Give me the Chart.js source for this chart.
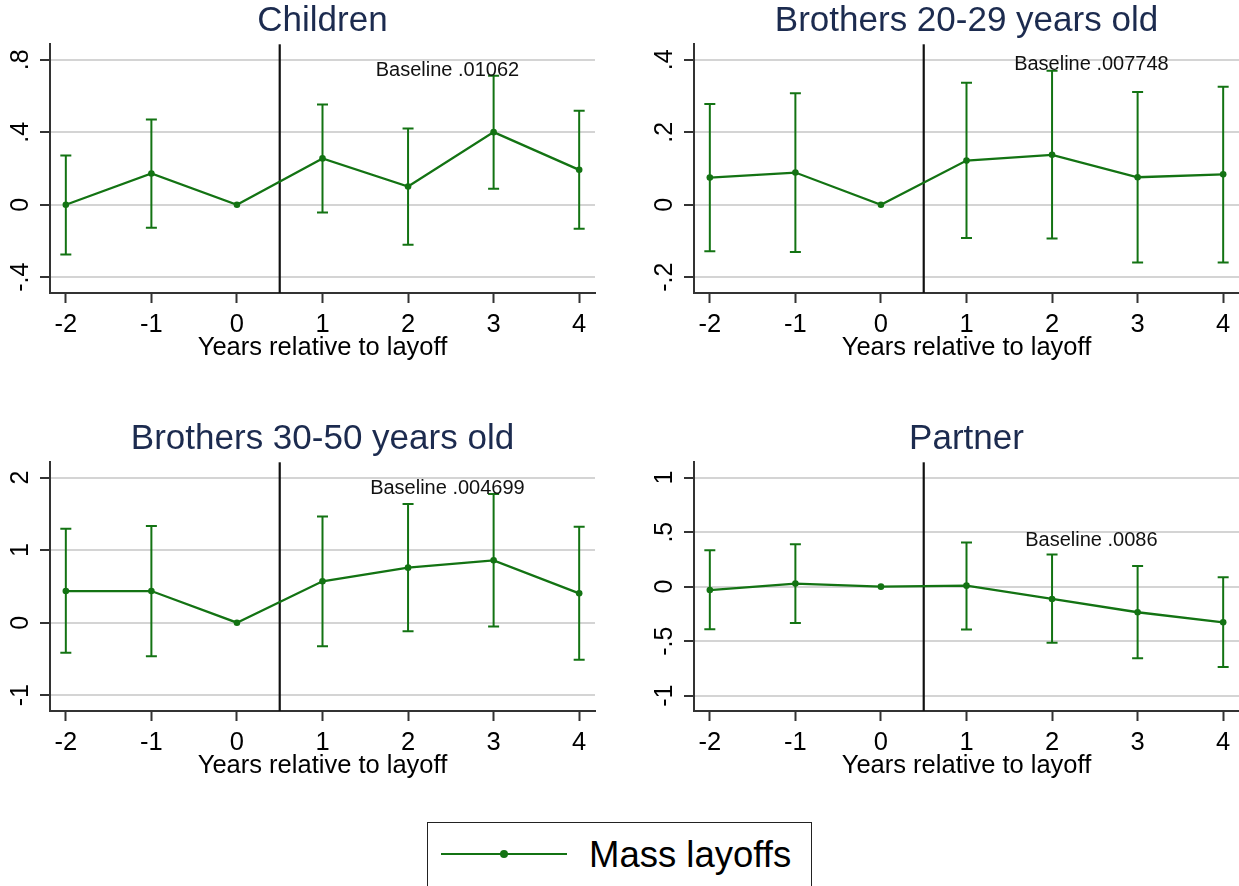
<!DOCTYPE html>
<html>
<head>
<meta charset="utf-8">
<script src="https://cdn.jsdelivr.net/npm/chart.js@4.4.1/dist/chart.umd.min.js"></script>
<style>
html,body{margin:0;padding:0;background:#fff;overflow:hidden;width:1239px;height:886px;}
canvas{position:absolute;}
#legend{position:absolute;left:427px;top:822px;width:385px;height:90px;border:1.5px solid #222;box-sizing:border-box;}
#lgline{position:absolute;left:441px;top:852.8px;width:126px;height:2.5px;background:#137313;}
#lgdot{position:absolute;left:500px;top:850px;width:8px;height:8px;border-radius:50%;background:#137313;}
#lgtext{position:absolute;left:589px;top:837px;font-family:"Liberation Sans",Arial,sans-serif;font-size:36.5px;line-height:36px;color:#000;white-space:nowrap;}
</style>
</head>
<body>
<canvas id="c1" width="600" height="363" style="left:0px;top:0px"></canvas>
<canvas id="c2" width="595" height="363" style="left:644px;top:0px"></canvas>
<canvas id="c3" width="600" height="363" style="left:0px;top:418px"></canvas>
<canvas id="c4" width="595" height="363" style="left:644px;top:418px"></canvas>
<div id="legend"></div>
<div id="lgline"></div>
<div id="lgdot"></div>
<div id="lgtext">Mass layoffs</div>
<script>
// ---------- data ----------
const years = [-2, -1, 0, 1, 2, 3, 4];
const layoffYear = 0.5;
const seriesName = 'Mass layoffs';
const xTitle = 'Years relative to layoff';

const panelTitles = ['Children', 'Brothers 20-29 years old', 'Brothers 30-50 years old', 'Partner'];
const baselineLabels = ['Baseline .01062', 'Baseline .007748', 'Baseline .004699', 'Baseline .0086'];

const childrenEst = [0, 0.173, 0, 0.256, 0.101, 0.401, 0.193];
const childrenLo  = [-0.274, -0.127, null, -0.042, -0.221, 0.088, -0.132];
const childrenHi  = [0.272, 0.471, null, 0.554, 0.421, 0.713, 0.519];

const bro2029Est = [0.075, 0.089, 0, 0.122, 0.138, 0.076, 0.084];
const bro2029Lo  = [-0.128, -0.130, null, -0.092, -0.093, -0.159, -0.159];
const bro2029Hi  = [0.278, 0.308, null, 0.337, 0.370, 0.311, 0.326];

const bro3050Est = [0.436, 0.436, 0, 0.570, 0.758, 0.859, 0.404];
const bro3050Lo  = [-0.415, -0.462, null, -0.325, -0.119, -0.051, -0.512];
const bro3050Hi  = [1.293, 1.333, null, 1.463, 1.635, 1.772, 1.322];

const partnerEst = [-0.031, 0.028, 0, 0.009, -0.113, -0.235, -0.327];
const partnerLo  = [-0.390, -0.333, null, -0.394, -0.514, -0.657, -0.737];
const partnerHi  = [0.333, 0.388, null, 0.405, 0.294, 0.190, 0.086];

const childrenYTicks = [-0.4, 0, 0.4, 0.8];
const childrenYLabels = ['-.4', '0', '.4', '.8'];
const bro2029YTicks = [-0.2, 0, 0.2, 0.4];
const bro2029YLabels = ['-.2', '0', '.2', '.4'];
const bro3050YTicks = [-1, 0, 1, 2];
const bro3050YLabels = ['-1', '0', '1', '2'];
const partnerYTicks = [-1, -0.5, 0, 0.5, 1];
const partnerYLabels = ['-1', '-.5', '0', '.5', '1'];

// ---------- layout / style ----------
const FONT = '"Liberation Sans", Arial, sans-serif';
const GREEN = '#137313';
const TITLE_COLOR = '#1c2b4f';
const xRange = [-2.185, 4.185];

const panelLayout = [
  {canvas: 'c1', yMin: -0.487, yMax: 0.886, baseX: 2.46, baseY: 0.742, yPad: 4.5, padRight: 5},
  {canvas: 'c2', yMin: -0.2435, yMax: 0.443, baseX: 2.46, baseY: 0.388, yPad: 4.5, padRight: 0},
  {canvas: 'c3', yMin: -1.217, yMax: 2.21, baseX: 2.46, baseY: 1.85, yPad: 7.8, padRight: 5},
  {canvas: 'c4', yMin: -1.141, yMax: 1.141, baseX: 2.46, baseY: 0.425, yPad: 4.5, padRight: 0}
];

const overlay = {
  id: 'overlay',
  beforeDatasetsDraw(chart, args, opts) {
    const {ctx, chartArea, scales} = chart;
    const px = scales.x.getPixelForValue(layoffYear);
    ctx.save();
    ctx.strokeStyle = '#111';
    ctx.lineWidth = 2.2;
    ctx.beginPath();
    ctx.moveTo(px, chartArea.top);
    ctx.lineTo(px, chartArea.bottom);
    ctx.stroke();
    ctx.restore();
  },
  afterDatasetsDraw(chart, args, opts) {
    const {ctx, scales} = chart;
    ctx.save();
    ctx.fillStyle = '#111';
    ctx.font = '20px ' + FONT;
    ctx.textAlign = 'center';
    ctx.textBaseline = 'middle';
    ctx.fillText(opts.text, scales.x.getPixelForValue(opts.x), scales.y.getPixelForValue(opts.y));
    ctx.restore();
  }
};

function makeChart(idx, est, lo, hi, yTicks, yLabels) {
  const L = panelLayout[idx];
  const whisker = [];
  const caps = [];
  years.forEach((x, i) => {
    if (lo[i] !== null && hi[i] !== null) {
      whisker.push({x: x, y: lo[i]}, {x: x, y: hi[i]}, {x: x, y: null});
      caps.push({x: x, y: lo[i]}, {x: x, y: hi[i]});
    }
  });
  return new Chart(document.getElementById(L.canvas), {
    type: 'line',
    data: {
      datasets: [
        {label: seriesName, data: years.map((x, i) => ({x: x, y: est[i]})),
         borderColor: GREEN, backgroundColor: GREEN, borderWidth: 2.3,
         pointRadius: 3.3, pointBackgroundColor: GREEN, pointBorderColor: GREEN, pointBorderWidth: 0,
         tension: 0, order: 0},
        {label: 'ci', data: whisker, borderColor: GREEN, borderWidth: 2, pointRadius: 0,
         spanGaps: false, order: 1},
        {label: 'caps', data: caps, showLine: false, pointStyle: 'line', pointRadius: 5.5,
         pointBorderColor: GREEN, pointBorderWidth: 2, borderColor: GREEN, order: 2}
      ]
    },
    options: {
      responsive: false,
      animation: false,
      events: [],
      layout: {autoPadding: false, padding: {left: 0, right: L.padRight, top: 0, bottom: 0}},
      plugins: {
        legend: {display: false},
        tooltip: {enabled: false},
        title: {display: true, text: panelTitles[idx], fullSize: false, color: TITLE_COLOR,
                font: {family: FONT, size: 35, weight: 'normal', lineHeight: 1.2},
                padding: {top: 0, bottom: 2.3}},
        overlay: {text: baselineLabels[idx], x: L.baseX, y: L.baseY}
      },
      scales: {
        x: {
          type: 'linear', min: xRange[0], max: xRange[1],
          afterBuildTicks: s => { s.ticks = years.map(v => ({value: v})); },
          afterFit: s => { s.height = 70; s.paddingLeft = 0; s.paddingRight = 0; },
          ticks: {font: {family: FONT, size: 25.5}, color: '#000', padding: 6.5, maxRotation: 0, minRotation: 0,
                  autoSkip: false, callback: v => String(v)},
          grid: {drawOnChartArea: false, drawTicks: true, tickLength: 10, tickColor: '#333', tickWidth: 2, color: '#333'},
          border: {display: true, color: '#333', width: 2},
          title: {display: true, text: xTitle, font: {family: FONT, size: 25.5}, color: '#000', padding: {top: 0, bottom: 0}}
        },
        y: {
          type: 'linear', min: L.yMin, max: L.yMax,
          afterBuildTicks: s => { s.ticks = yTicks.map(v => ({value: v})); },
          afterFit: s => { s.width = 50; s.paddingTop = 0; s.paddingBottom = 0; },
          ticks: {font: {family: FONT, size: 25}, color: '#000', padding: L.yPad, minRotation: 90, maxRotation: 90,
                  crossAlign: 'center', autoSkip: false,
                  callback: v => yLabels[yTicks.indexOf(v)]},
          grid: {color: '#d4d4d4', lineWidth: 2, tickColor: '#333', tickWidth: 2, tickLength: 10, drawTicks: true},
          border: {display: true, color: '#333', width: 2}
        }
      }
    },
    plugins: [overlay]
  });
}

makeChart(0, childrenEst, childrenLo, childrenHi, childrenYTicks, childrenYLabels);
makeChart(1, bro2029Est, bro2029Lo, bro2029Hi, bro2029YTicks, bro2029YLabels);
makeChart(2, bro3050Est, bro3050Lo, bro3050Hi, bro3050YTicks, bro3050YLabels);
makeChart(3, partnerEst, partnerLo, partnerHi, partnerYTicks, partnerYLabels);
</script>
</body>
</html>
